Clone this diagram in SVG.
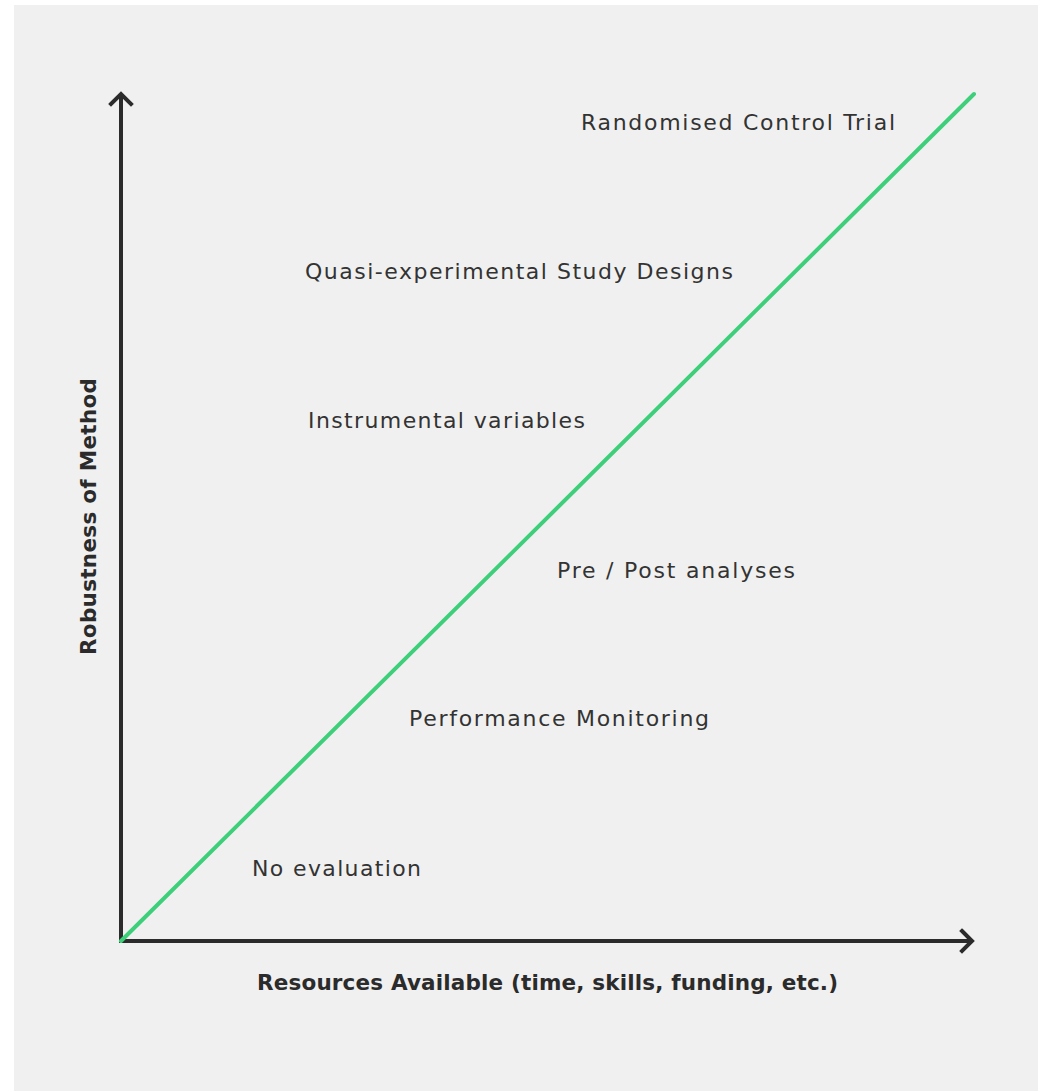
<svg xmlns="http://www.w3.org/2000/svg" width="1038" height="1091" viewBox="0 0 1038 1091">
<style>
.lbl{font-family:"DejaVu Sans","Open Sans",sans-serif;font-size:22px;fill:#333;}
.ttl{font-family:"DejaVu Sans","Noto Sans",sans-serif;font-size:21.5px;font-weight:bold;fill:#2b2b2b;}
.ax{stroke:#2b2b2b;stroke-width:4;fill:none;}
.head{stroke:#2b2b2b;stroke-width:4;fill:none;stroke-linecap:square;stroke-linejoin:miter;}
</style>
<rect x="0" y="0" width="1038" height="1091" fill="#ffffff"/>
<rect x="14" y="5" width="1024" height="1086" fill="#f0f0f0"/>
<g id="connectors">
<line class="ax" x1="121" y1="943" x2="121" y2="96"/>
<line class="ax" x1="119" y1="941" x2="971" y2="941"/>
<polyline class="head" points="111,104 121,94 131,104"/>
<polyline class="head" points="962,931 972,941 962,951"/>
<line x1="121" y1="941" x2="974" y2="94" stroke="#3ecf7a" stroke-width="4" stroke-linecap="round"/>
</g>
<g id="rct"><text class="lbl" x="581" y="130" textLength="314" lengthAdjust="spacing">Randomised Control Trial</text></g>
<g id="quasi"><text class="lbl" x="305" y="279" textLength="428" lengthAdjust="spacing">Quasi-experimental Study Designs</text></g>
<g id="iv"><text class="lbl" x="308" y="428" textLength="277" lengthAdjust="spacing">Instrumental variables</text></g>
<g id="prepost"><text class="lbl" x="557" y="578" textLength="238" lengthAdjust="spacing">Pre / Post analyses</text></g>
<g id="perf"><text class="lbl" x="409" y="726" textLength="300" lengthAdjust="spacing">Performance Monitoring</text></g>
<g id="noeval"><text class="lbl" x="252" y="876" textLength="169" lengthAdjust="spacing">No evaluation</text></g>
<g id="xtitle"><text class="ttl" x="257" y="990" textLength="581" lengthAdjust="spacing">Resources Available (time, skills, funding, etc.)</text></g>
<g id="ytitle"><text class="ttl" x="0" y="0" textLength="277" lengthAdjust="spacing" transform="translate(96,655) rotate(-90)">Robustness of Method</text></g>
</svg>
